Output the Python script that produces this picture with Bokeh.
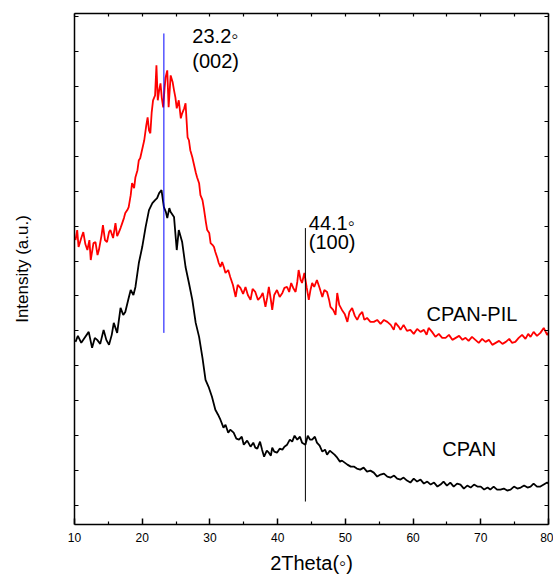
from bokeh.plotting import figure
from bokeh.models import LinearAxis, FixedTicker, Range1d, CustomJSTickFormatter
from bokeh.core.properties import value
from bokeh.embed import file_html
from bokeh.resources import INLINE

# ---- data (2Theta in degrees, intensity in a.u.) ----
cpan_x = [10.15, 10.5, 11.0, 11.5, 12.1, 12.6, 13.0, 13.35, 13.8, 14.3, 14.7, 15.1, 15.5, 15.8, 16.3,
          16.8, 17.2, 17.5, 18.0, 18.3, 18.7, 19.0, 19.5, 20.0, 20.5, 21.0, 21.5, 21.9, 22.2, 22.5,
          22.85, 23.2, 23.5, 23.7, 24.0, 24.2, 24.7, 25.1, 25.4, 25.9, 26.4, 26.9, 27.4, 27.9, 28.4,
          28.9, 29.35, 29.8, 30.3, 30.8, 31.2, 31.55, 32.0, 32.3, 32.7, 33.0, 33.5, 33.9, 34.3, 34.7,
          35.0, 35.5, 36.0, 36.4, 36.7, 37.0, 37.4, 37.7, 38.0, 38.4, 38.7, 39.0, 39.2, 39.5, 39.9,
          40.3, 40.7, 41.0, 41.4, 41.8, 42.15, 42.5, 42.9, 43.3, 43.6, 44.1, 44.45, 44.8, 45.1, 45.5,
          45.8, 46.2, 46.6, 47.0, 47.3, 47.7, 48.05, 48.4, 48.8, 49.2, 49.5, 49.9, 50.3, 50.8, 51.25,
          51.7, 52.2, 52.7, 53.2, 53.7, 54.2, 54.7, 55.2, 55.7, 56.2, 56.7, 57.2, 57.65, 58.15, 58.6,
          59.1, 59.6, 60.1, 60.6, 61.1, 61.6, 62.1, 62.6, 63.1, 63.6, 64.05, 64.5, 65.0, 65.5, 66.0,
          66.5, 67.0, 67.5, 68.0, 68.5, 69.0, 69.5, 70.0, 70.5, 71.0, 71.4, 71.9, 72.4, 72.9, 73.4,
          73.9, 74.4, 74.9, 75.4, 75.9, 76.4, 76.9, 77.35, 77.8, 78.3, 78.8, 79.3, 79.8, 80.0]
cpan_y = [183, 189, 182, 187, 193, 177, 187, 185, 181, 195, 185, 180, 190, 202, 192,
          217, 210, 213, 227, 235, 230, 238, 262, 278, 298, 315, 322, 325, 327, 332,
          335, 318, 313, 307, 317, 313, 308, 275, 295, 283, 258, 242, 225, 202, 188,
          167, 145, 138, 128, 115, 110, 105, 97, 100, 92, 95, 92, 86, 85, 88,
          80, 84, 78, 82, 77, 76, 83, 75, 68, 74, 72, 69, 77, 73, 72,
          76, 75, 78, 80, 85, 83, 89, 85, 88, 82, 80, 89, 85, 85, 88,
          82, 79, 73, 75, 70, 74, 72, 70, 67, 63, 64, 62, 60, 58, 58,
          56, 55, 57, 53, 54, 52, 48, 50, 51, 48, 47, 49, 46, 45, 47,
          44, 42, 46, 43, 45, 41, 43, 40, 42, 38, 40, 43, 39, 42, 38,
          41, 40, 36, 39, 37, 40, 38, 38, 35, 37, 35, 38, 35, 35, 36,
          34, 35, 38, 36, 37, 39, 37, 38, 41, 38, 38, 40, 42, 41]

pil_x = [10.15, 10.4, 10.6, 11.0, 11.3, 11.6, 11.9, 12.2, 12.4, 12.8, 13.1, 13.4, 13.6, 14.0, 14.2,
         14.5, 14.8, 15.1, 15.3, 15.7, 16.05, 16.3, 16.5, 16.8, 17.05, 17.3, 17.5, 17.8, 18.0, 18.3,
         18.5, 18.8, 19.0, 19.3, 19.5, 19.7, 19.9, 20.1, 20.3, 20.6, 20.8, 21.0, 21.2, 21.4, 21.6,
         21.9, 22.1, 22.3, 22.5, 22.7, 22.9, 23.1, 23.3, 23.45, 23.7, 23.9, 24.2, 24.5, 24.7, 24.9,
         25.1, 25.4, 25.7, 25.9, 26.2, 26.4, 26.7, 26.9, 27.1, 27.4, 27.6, 27.9, 28.1, 28.4, 28.6,
         28.9, 29.1, 29.4, 29.6, 29.9, 30.1, 30.4, 30.6, 30.8, 31.1, 31.3, 31.55, 31.8, 32.05, 32.3,
         32.7, 33.0, 33.4, 33.8, 34.1, 34.5, 34.9, 35.25, 35.6, 36.0, 36.3, 36.7, 37.1, 37.5, 37.8,
         38.2, 38.45, 38.7, 39.0, 39.2, 39.5, 39.9, 40.3, 40.7, 41.0, 41.4, 41.7, 42.0, 42.3, 42.65,
         42.9, 43.1, 43.4, 43.6, 43.95, 44.3, 44.6, 44.85, 45.1, 45.4, 45.8, 46.2, 46.6, 46.9, 47.3,
         47.6, 47.8, 48.2, 48.55, 48.8, 49.1, 49.5, 49.9, 50.3, 50.6, 51.0, 51.4, 51.75, 52.1, 52.5,
         52.8, 53.2, 53.7, 54.2, 54.7, 55.2, 55.7, 56.2, 56.7, 57.15, 57.4, 57.9, 58.15, 58.6, 59.1,
         59.6, 60.1, 60.6, 61.1, 61.6, 62.0, 62.3, 62.8, 63.3, 63.8, 64.3, 64.8, 65.3, 65.8, 66.3,
         66.8, 67.3, 67.75, 68.2, 68.7, 69.2, 69.7, 70.2, 70.7, 71.2, 71.7, 72.2, 72.7, 73.2, 73.7,
         74.2, 74.6, 75.1, 75.6, 76.1, 76.6, 77.0, 77.35, 77.8, 78.3, 78.8, 79.3, 79.8, 80.0]
pil_y = [285, 295, 278, 287, 293, 281, 275, 285, 265, 282, 283, 270, 275, 290, 300,
         285, 283, 293, 295, 287, 302, 289, 292, 297, 302, 307, 312, 315, 318, 330,
         342, 337, 348, 355, 365, 367, 373, 379, 385, 400, 408, 395, 392, 413, 425,
         430, 460, 425, 435, 442, 427, 418, 437, 448, 455, 418, 450, 443, 435, 428,
         417, 425, 407, 412, 417, 422, 388, 385, 375, 368, 362, 353, 348, 342, 330,
         325, 317, 303, 295, 292, 282, 280, 278, 273, 267, 262, 258, 263, 258, 252,
         255, 248, 240, 228, 240, 237, 231, 238, 230, 225, 236, 233, 225, 228, 232,
         218, 227, 238, 225, 215, 230, 235, 228, 232, 237, 238, 233, 242, 237, 233,
         243, 255, 245, 242, 252, 237, 225, 235, 242, 238, 245, 237, 228, 235, 233,
         225, 218, 215, 210, 232, 220, 215, 211, 203, 213, 217, 209, 205, 210, 213,
         205, 207, 203, 203, 205, 201, 205, 203, 200, 195, 202, 198, 195, 200, 194,
         195, 191, 196, 193, 195, 190, 197, 193, 188, 191, 187, 187, 190, 185, 187,
         189, 185, 187, 184, 188, 185, 182, 186, 183, 185, 180, 182, 184, 181, 183,
         186, 182, 183, 187, 190, 186, 191, 188, 193, 189, 192, 197, 190, 192]

x_ticks = [10, 20, 30, 40, 50, 60, 70, 80]
x_minor_ticks = [15, 25, 35, 45, 55, 65, 75]
y_ticks = list(range(19, 512, 35))

peak_pos = [23.2, 44.1]
peak_line_bottom = [192, 23]
peak_line_top = [492, 297]
peak_line_colors = ["#0000ff", "#000000"]
peak_angle_labels = ["23.2\u25e6", "44.1\u25e6"]
peak_hkl_labels = ["(002)", "(100)"]
peak_label_x = [27.4, 44.6]
peak_angle_y = [489, 302]
peak_hkl_y = [464, 283]

series_names = ["CPAN-PIL", "CPAN"]
series_label_x = [62.0, 64.3]
series_label_y = [211, 76]

FONT = "Liberation Sans"
blank = CustomJSTickFormatter(code="return ''")

p = figure(width=553, height=576, output_backend="svg", toolbar_location=None,
           x_range=Range1d(10, 80), y_range=Range1d(0, 512),
           min_border_left=74, min_border_right=5, min_border_top=13, min_border_bottom=51,
           outline_line_color=None, background_fill_color="white", border_fill_color="white")
p.grid.visible = False

# bottom axis
xa = p.xaxis[0]
xa.ticker = FixedTicker(ticks=x_ticks, minor_ticks=x_minor_ticks)
xa.major_tick_in = 6
xa.major_tick_out = 0
xa.minor_tick_in = 3
xa.minor_tick_out = 0
xa.axis_line_width = 1.5
xa.axis_line_color = "black"
xa.major_tick_line_color = "black"
xa.minor_tick_line_color = "black"
xa.major_tick_line_width = 1.5
xa.minor_tick_line_width = 1.2
xa.major_label_text_font = FONT
xa.major_label_text_font_size = "12px"
xa.major_label_text_color = "black"
xa.major_label_standoff = 8
xa.axis_label = "2Theta(\u25e6)"
xa.axis_label_text_font = FONT
xa.axis_label_text_font_size = "20px"
xa.axis_label_text_font_style = "normal"
xa.axis_label_text_color = "black"
xa.axis_label_standoff = 7

# left axis
ya = p.yaxis[0]
ya.ticker = FixedTicker(ticks=y_ticks, minor_ticks=[])
ya.formatter = blank
ya.major_tick_in = 4
ya.major_tick_out = 0
ya.axis_line_width = 1.5
ya.axis_line_color = "black"
ya.major_tick_line_color = "black"
ya.major_tick_line_width = 1.2
ya.major_label_text_font_size = "1px"
ya.major_label_standoff = 0
ya.axis_label = "Intensity (a.u.)"
ya.axis_label_text_font = FONT
ya.axis_label_text_font_size = "17px"
ya.axis_label_text_font_style = "normal"
ya.axis_label_text_color = "black"
ya.axis_label_standoff = 43

# top and right axes (ticks only)
top = LinearAxis(ticker=FixedTicker(ticks=x_ticks + x_minor_ticks, minor_ticks=[]), formatter=blank,
                 major_tick_in=3, major_tick_out=0, axis_line_width=1.5, axis_line_color="black",
                 major_tick_line_color="black", major_tick_line_width=1.2,
                 major_label_text_font_size="1px", major_label_standoff=0)
p.add_layout(top, "above")
right = LinearAxis(ticker=FixedTicker(ticks=y_ticks, minor_ticks=[]), formatter=blank,
                   major_tick_in=4, major_tick_out=0, axis_line_width=1.5, axis_line_color="black",
                   major_tick_line_color="black", major_tick_line_width=1.2,
                   major_label_text_font_size="1px", major_label_standoff=0)
p.add_layout(right, "right")

# curves
p.line(pil_x, pil_y, line_color="#ff0000", line_width=1.8)
p.line(cpan_x, cpan_y, line_color="#000000", line_width=1.8)

# peak marker lines
p.segment(x0=peak_pos, y0=peak_line_bottom, x1=peak_pos, y1=peak_line_top,
          line_color=peak_line_colors, line_width=1)

# annotations
p.text(x=peak_label_x, y=peak_angle_y, text=peak_angle_labels, text_font=value(FONT),
       text_font_size="20px", text_baseline="middle", text_align="left", text_color="black")
p.text(x=peak_label_x, y=peak_hkl_y, text=peak_hkl_labels, text_font=value(FONT),
       text_font_size="20px", text_baseline="middle", text_align="left", text_color="black")
p.text(x=series_label_x, y=series_label_y, text=series_names, text_font=value(FONT),
       text_font_size="20px", text_baseline="middle", text_align="left", text_color="black")

open("out.html", "w").write(file_html(p, INLINE))
